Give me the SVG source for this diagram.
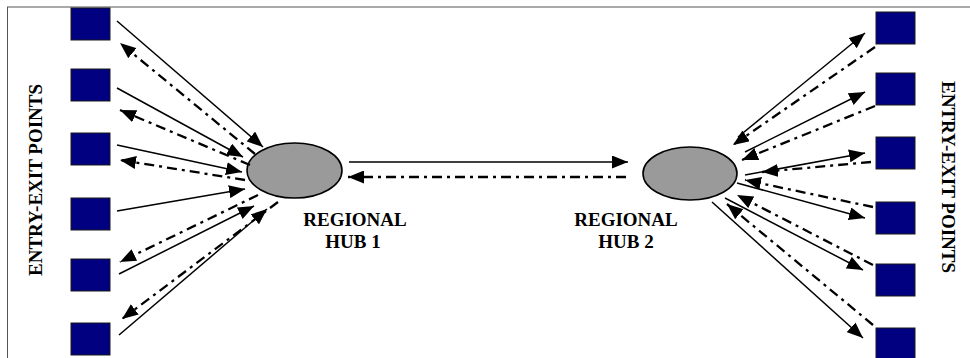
<svg xmlns="http://www.w3.org/2000/svg" width="970" height="358" viewBox="0 0 970 358">
  <style>
    .box { fill: #000080; stroke: #1a1a1a; stroke-width: 1; }
    .hub { fill: #9a9a9a; stroke: #000; stroke-width: 1.6; }
    .lbl { font-family: 'Liberation Serif', 'Times New Roman', Times, serif; font-weight: bold; font-size: 19px; fill: #000; text-anchor: middle; }
    .solid { stroke: #000; stroke-width: 1.5; fill: none; marker-end: url(#ah); }
    .dd { stroke: #000; stroke-width: 2.3; fill: none; stroke-dasharray: 10 5 3 5; marker-end: url(#ah); }
  </style>
  <defs>
    <marker id="ah" viewBox="0 0 16 13" refX="16" refY="6.5" markerWidth="16" markerHeight="13" markerUnits="userSpaceOnUse" orient="auto">
      <path d="M0,0 L16,6.5 L0,13 z" fill="#000"/>
    </marker>
  </defs>
  <rect width="970" height="358" fill="#fff"/>
  <!-- frame -->
  <rect x="7.5" y="7" width="975" height="365" fill="none" stroke="#555" stroke-width="1"/>

  <!-- side titles -->
  <text class="lbl" font-family="Liberation Serif, serif" transform="translate(42,180) rotate(-90)">ENTRY-EXIT POINTS</text>
  <text class="lbl" font-family="Liberation Serif, serif" transform="translate(942,177) rotate(90)">ENTRY-EXIT POINTS</text>

  <!-- left entry-exit points -->
  <g id="left-point-1"><rect class="box" x="71" y="8" width="39" height="32"/></g>
  <g id="left-point-2"><rect class="box" x="71" y="69" width="39" height="32"/></g>
  <g id="left-point-3"><rect class="box" x="71" y="133" width="39" height="32"/></g>
  <g id="left-point-4"><rect class="box" x="71" y="198" width="39" height="32"/></g>
  <g id="left-point-5"><rect class="box" x="71" y="259" width="39" height="32"/></g>
  <g id="left-point-6"><rect class="box" x="71" y="323" width="39" height="32"/></g>

  <!-- right entry-exit points -->
  <g id="right-point-1"><rect class="box" x="876" y="12" width="39" height="32"/></g>
  <g id="right-point-2"><rect class="box" x="876" y="73" width="39" height="32"/></g>
  <g id="right-point-3"><rect class="box" x="876" y="137" width="39" height="32"/></g>
  <g id="right-point-4"><rect class="box" x="876" y="202" width="39" height="32"/></g>
  <g id="right-point-5"><rect class="box" x="876" y="264" width="39" height="32"/></g>
  <g id="right-point-6"><rect class="box" x="876" y="328" width="39" height="32"/></g>

  <!-- hubs -->
  <g id="hub-1">
    <ellipse class="hub" cx="294.5" cy="170.5" rx="47.5" ry="27.5"/>
    <text class="lbl" font-family="Liberation Serif, serif" x="355" y="226">REGIONAL</text>
    <text class="lbl" font-family="Liberation Serif, serif" x="353" y="248">HUB 1</text>
  </g>
  <g id="hub-2">
    <ellipse class="hub" cx="690" cy="173.5" rx="47" ry="26.5"/>
    <text class="lbl" font-family="Liberation Serif, serif" x="626" y="226">REGIONAL</text>
    <text class="lbl" font-family="Liberation Serif, serif" x="626" y="248">HUB 2</text>
  </g>

  <g id="connectors">
    <!-- left points to hub 1 -->
    <line class="solid" x1="117" y1="21" x2="263" y2="147"/>
    <line class="solid" x1="117" y1="88" x2="243" y2="157"/>
    <line class="solid" x1="117" y1="145" x2="242" y2="172"/>
    <line class="solid" x1="117" y1="211" x2="245" y2="189"/>
    <line class="solid" x1="119" y1="274" x2="254" y2="206"/>
    <line class="solid" x1="119" y1="335" x2="267" y2="209"/>
    <!-- hub 1 back to left points -->
    <line class="dd" x1="255" y1="154" x2="120" y2="43"/>
    <line class="dd" x1="250" y1="165" x2="120" y2="110"/>
    <line class="dd" x1="245" y1="180" x2="120" y2="160"/>
    <line class="dd" x1="258" y1="195" x2="120" y2="262"/>
    <line class="dd" x1="278" y1="202" x2="122" y2="319"/>

    <!-- hub to hub -->
    <line class="solid" x1="349" y1="162" x2="628" y2="162"/>
    <line class="dd" x1="626" y1="177" x2="348" y2="177"/>

    <!-- hub 2 to right points -->
    <line class="solid" x1="738" y1="137" x2="865" y2="33"/>
    <line class="solid" x1="745" y1="152" x2="865" y2="92"/>
    <line class="solid" x1="745" y1="175" x2="865" y2="153"/>
    <line class="solid" x1="737" y1="183" x2="865" y2="218"/>
    <line class="solid" x1="725" y1="198" x2="863" y2="270"/>
    <line class="solid" x1="712" y1="202" x2="863" y2="338"/>
    <!-- right points back to hub 2 -->
    <line class="dd" x1="875" y1="47" x2="733" y2="145"/>
    <line class="dd" x1="875" y1="106" x2="742" y2="160"/>
    <line class="dd" x1="871" y1="162" x2="762" y2="172"/>
    <line class="dd" x1="873" y1="207" x2="745" y2="180"/>
    <line class="dd" x1="873" y1="265" x2="737" y2="195"/>
    <line class="dd" x1="873" y1="325" x2="727" y2="204"/>
  </g>
</svg>
